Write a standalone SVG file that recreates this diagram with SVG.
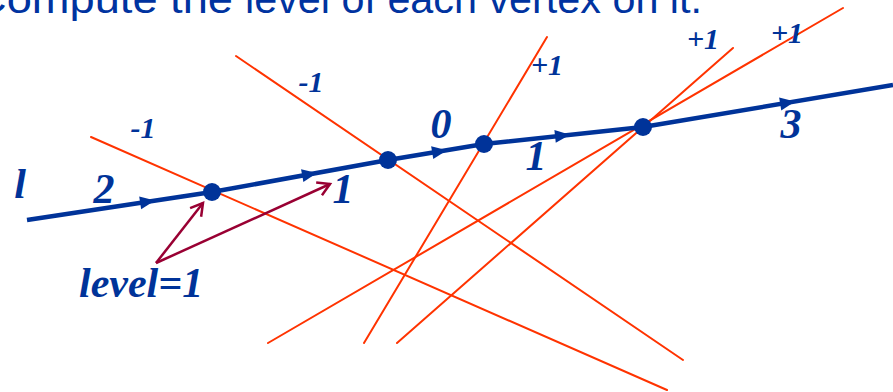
<svg xmlns="http://www.w3.org/2000/svg" width="893" height="392" viewBox="0 0 893 392">
<style>
.title{font-family:"Liberation Sans",Arial,sans-serif;font-size:40px;fill:#0033a0}
.lbl{font-family:"Liberation Serif","Times New Roman",serif;font-weight:bold;font-style:italic;fill:#003399}
.big{font-size:42px}
.sm{font-size:30px}
.red{stroke:#ff3300;stroke-width:2;fill:none;stroke-linecap:round}
.main{stroke:#003399;stroke-width:4.5;fill:none;stroke-linejoin:round}
.dot{fill:#003399}
.ptr{stroke:#990033;stroke-width:2.5;fill:none}
</style>
<defs>
<path id="ah" d="M0,0 L-15,-6.5 L-15,6.5 Z" fill="#003399"/>
<marker id="vhead" markerUnits="userSpaceOnUse" markerWidth="20" markerHeight="20" refX="0" refY="0" viewBox="-14 -10 20 20" orient="auto">
<path d="M-12,-7 L0,0 L-12,7" stroke="#990033" stroke-width="2.5" fill="none"/>
</marker>
</defs>
<text class="title"><tspan x="-26" y="13" textLength="259" lengthAdjust="spacingAndGlyphs">Compute the</tspan><tspan x="245" y="13" textLength="457" lengthAdjust="spacingAndGlyphs">level of each vertex on it.</tspan></text>
<g id="connectors">
<line class="red" x1="91" y1="137" x2="667" y2="390"/>
<line class="red" x1="236" y1="56" x2="683" y2="360"/>
<line class="red" x1="547" y1="37" x2="364" y2="343"/>
<line class="red" x1="733" y1="48" x2="397" y2="343"/>
<line class="red" x1="843" y1="8" x2="268" y2="343"/>
<polyline class="main" points="27,220 212,192 388,160 484,144 643,127 893,85"/>
<use href="#ah" transform="translate(155,200.6) rotate(-8.6)"/>
<use href="#ah" transform="translate(317,173) rotate(-10.3)"/>
<use href="#ah" transform="translate(447,150.2) rotate(-9.5)"/>
<use href="#ah" transform="translate(570,134.8) rotate(-6.1)"/>
<use href="#ah" transform="translate(795,101.5) rotate(-9.5)"/>
<line class="ptr" x1="156" y1="263" x2="203" y2="203" marker-end="url(#vhead)"/>
<line class="ptr" x1="156" y1="263" x2="330" y2="184" marker-end="url(#vhead)"/>
</g>
<g id="v1"><circle class="dot" cx="212" cy="192" r="9"/></g>
<g id="v2"><circle class="dot" cx="388" cy="160" r="9"/></g>
<g id="v3"><circle class="dot" cx="484" cy="144" r="9"/></g>
<g id="v4"><circle class="dot" cx="643" cy="127" r="9"/></g>
<g id="labels">
<text class="lbl big" x="20" y="198" text-anchor="middle">l</text>
<text class="lbl big" x="104" y="203" text-anchor="middle">2</text>
<text class="lbl big" x="343" y="203" text-anchor="middle">1</text>
<text class="lbl big" x="441" y="138" text-anchor="middle">0</text>
<text class="lbl big" x="536" y="170" text-anchor="middle">1</text>
<text class="lbl big" x="791" y="138" text-anchor="middle">3</text>
<text class="lbl sm" x="143" y="138" text-anchor="middle">-1</text>
<text class="lbl sm" x="311" y="92" text-anchor="middle">-1</text>
<text class="lbl sm" x="547" y="75" text-anchor="middle">+1</text>
<text class="lbl sm" x="703" y="49" text-anchor="middle">+1</text>
<text class="lbl sm" x="787" y="43" text-anchor="middle">+1</text>
<text class="lbl big" x="79" y="297">level=1</text>
</g>
</svg>
